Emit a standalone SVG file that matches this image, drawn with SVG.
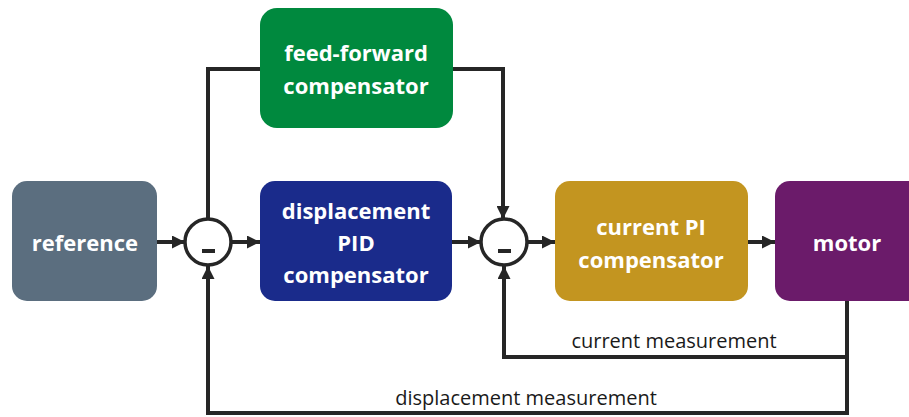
<svg xmlns="http://www.w3.org/2000/svg" width="909" height="417" viewBox="0 0 909 417">
<style>
.box text{font-family:"Open Sans","Noto Sans",sans-serif;font-weight:bold;font-size:22px;fill:#fff;text-anchor:middle;dominant-baseline:central}
.ln{fill:none;stroke:#262626;stroke-width:4}
.lbl{font-family:"Open Sans","Noto Sans",sans-serif;font-size:20px;fill:#1a1a1a;text-anchor:middle}
.sum circle{fill:#fff;stroke:#262626;stroke-width:3.5}
.sum rect{fill:#262626}
</style>
<defs>
<marker id="ah" viewBox="0 0 10 10" refX="10" refY="5" markerWidth="13" markerHeight="13" markerUnits="userSpaceOnUse" orient="auto">
<path d="M0,0 L10,5 L0,10 z" fill="#262626"/>
</marker>
</defs>
<rect width="909" height="417" fill="#fff"/>
<g id="connectors">
<path class="ln" d="M157,242 H185" marker-end="url(#ah)"/>
<path class="ln" d="M232,242 H260" marker-end="url(#ah)"/>
<path class="ln" d="M452,242 H481" marker-end="url(#ah)"/>
<path class="ln" d="M528,242 H555" marker-end="url(#ah)"/>
<path class="ln" d="M748,242 H775" marker-end="url(#ah)"/>
<path class="ln" d="M208,219 V69 H262"/>
<path class="ln" d="M451,69 H503 V219" marker-end="url(#ah)"/>
<path class="ln" d="M847,300 V413 H208 V266" marker-end="url(#ah)"/>
<path class="ln" d="M847,357 H504 V266" marker-end="url(#ah)"/>
</g>
<g id="reference" class="box"><rect x="12" y="181" width="145" height="120" rx="15" fill="#5b6e7f"/><text x="85" y="242">reference</text></g>
<g id="sum1" class="sum"><circle cx="208" cy="242" r="23"/><rect x="202" y="249" width="13" height="4"/></g>
<g id="sum2" class="sum"><circle cx="504" cy="242" r="23"/><rect x="498" y="249" width="13" height="4"/></g>
<g id="displacement-pid" class="box"><rect x="260" y="181" width="192" height="120" rx="15" fill="#1a2b8b"/><text x="356" y="210">displacement</text><text x="356" y="242">PID</text><text x="356" y="274">compensator</text></g>
<g id="feed-forward" class="box"><rect x="260" y="8" width="193" height="120" rx="17" fill="#00893e"/><text x="356" y="52">feed-forward</text><text x="356" y="85">compensator</text></g>
<g id="current-pi" class="box"><rect x="555" y="181" width="193" height="120" rx="15" fill="#c39520"/><text x="651" y="226">current PI</text><text x="651" y="259">compensator</text></g>
<g id="motor" class="box"><rect x="775" y="181" width="150" height="120" rx="15" fill="#6b1b6a"/><text x="847" y="242">motor</text></g>
<text class="lbl" x="674" y="348">current measurement</text>
<text class="lbl" x="526" y="405">displacement measurement</text>
</svg>
